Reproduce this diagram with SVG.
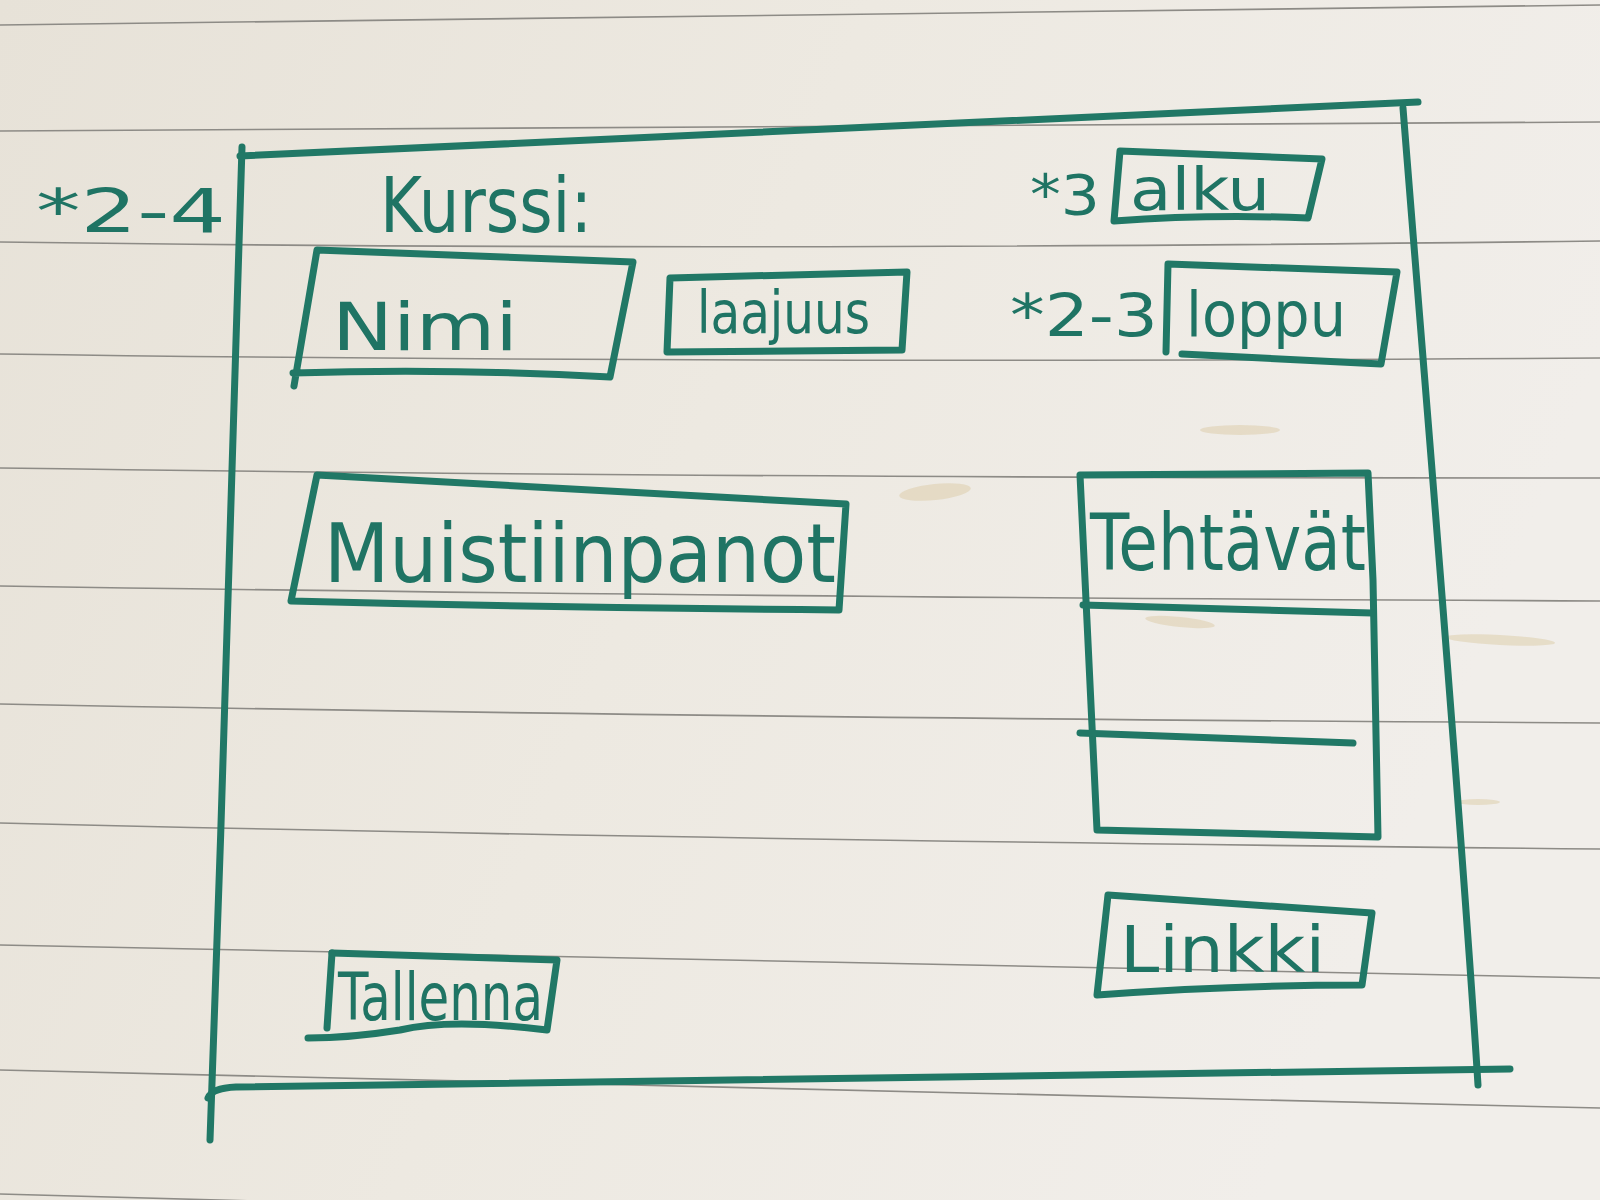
<svg xmlns="http://www.w3.org/2000/svg" width="1600" height="1200" viewBox="0 0 1600 1200">
<defs>
<linearGradient id="paper" x1="0" y1="0" x2="1" y2="0.3">
<stop offset="0" stop-color="#e7e2d8"/>
<stop offset="0.5" stop-color="#ede9e1"/>
<stop offset="1" stop-color="#f1eeea"/>
</linearGradient>
<style>
.rule{fill:none;stroke:#8d8b86;stroke-width:1.6}
.ink{fill:none;stroke:#217866;stroke-width:7;stroke-linecap:round;stroke-linejoin:round}
.txt{fill:#1f7464;font-family:"DejaVu Sans","Liberation Sans",sans-serif}
.stain{fill:#d9c7a0;opacity:0.45}
</style>
</defs>
<rect x="0" y="0" width="1600" height="1200" fill="url(#paper)"/>
<g id="paper-lines">
<path class="rule" d="M0,25 Q800,16 1600,5"/>
<path class="rule" d="M0,131 Q800,130 1600,122"/>
<path class="rule" d="M0,242 Q700,252 1600,241"/>
<path class="rule" d="M0,354 Q700,364 1600,358"/>
<path class="rule" d="M0,468 Q700,478 1600,478"/>
<path class="rule" d="M0,586 Q700,597 1600,601"/>
<path class="rule" d="M0,704 Q700,718 1600,723"/>
<path class="rule" d="M0,823 Q700,840 1600,849"/>
<path class="rule" d="M0,945 Q700,962 1600,978"/>
<path class="rule" d="M0,1070 Q700,1088 1600,1108"/>
<path class="rule" d="M0,1194 Q700,1212 1600,1238"/>
</g>
<g id="stains">
<ellipse class="stain" cx="935" cy="492" rx="36" ry="8" transform="rotate(-6 935 492)"/>
<ellipse class="stain" cx="1240" cy="430" rx="40" ry="5"/>
<ellipse class="stain" cx="1500" cy="640" rx="55" ry="5" transform="rotate(3 1500 640)"/>
<ellipse class="stain" cx="1180" cy="622" rx="35" ry="5" transform="rotate(6 1180 622)"/>
<ellipse class="stain" cx="1478" cy="802" rx="22" ry="3"/>
</g>
<g id="frame">
<path class="ink" d="M242,147 C236,400 222,800 210,1140"/>
<path class="ink" d="M240,156 Q830,128 1418,102"/>
<path class="ink" d="M1403,108 C1430,450 1460,800 1478,1085"/>
<path class="ink" d="M208,1098 Q212,1088 236,1087 L1510,1069"/>
</g>
<g id="note-2-4">
<text class="txt" x="36" y="232" font-size="60" textLength="190" lengthAdjust="spacingAndGlyphs">*2-4</text>
</g>
<g id="kurssi">
<text class="txt" x="380" y="232" font-size="76" textLength="212" lengthAdjust="spacingAndGlyphs">Kurssi:</text>
</g>
<g id="alku">
<text class="txt" x="1030" y="214" font-size="56" textLength="70" lengthAdjust="spacingAndGlyphs">*3</text>
<path class="ink" d="M1120,151 L1322,159 L1308,218 Q1210,214 1114,221 Z"/>
<text class="txt" x="1130" y="210" font-size="58" textLength="140" lengthAdjust="spacingAndGlyphs">alku</text>
</g>
<g id="loppu">
<text class="txt" x="1010" y="336" font-size="58" textLength="148" lengthAdjust="spacingAndGlyphs">*2-3</text>
<path class="ink" d="M1166,352 L1168,264 L1397,272 L1381,364 L1182,354"/>
<text class="txt" x="1186" y="336" font-size="62" textLength="160" lengthAdjust="spacingAndGlyphs">loppu</text>
</g>
<g id="nimi">
<path class="ink" d="M294,386 L317,250 L633,262 L610,377 Q450,368 293,373"/>
<text class="txt" x="332" y="350" font-size="66" textLength="186" lengthAdjust="spacingAndGlyphs">Nimi</text>
</g>
<g id="laajuus">
<path class="ink" d="M670,278 L907,272 L902,350 L667,352 Z"/>
<text class="txt" x="697" y="333" font-size="58" textLength="173" lengthAdjust="spacingAndGlyphs">laajuus</text>
</g>
<g id="muistiinpanot">
<path class="ink" d="M317,475 L846,504 L839,610 Q560,608 291,601 Z"/>
<text class="txt" x="324" y="582" font-size="82" textLength="512" lengthAdjust="spacingAndGlyphs">Muistiinpanot</text>
</g>
<g id="tehtavat">
<path class="ink" d="M1080,475 L1368,473 L1373,580 L1378,837 L1097,830 Z"/>
<path class="ink" d="M1083,605 L1372,613"/>
<path class="ink" d="M1080,733 L1353,743"/>
<text class="txt" x="1090" y="570" font-size="78" textLength="276" lengthAdjust="spacingAndGlyphs">Tehtävät</text>
</g>
<g id="linkki">
<path class="ink" d="M1108,895 L1372,913 L1362,985 Q1230,985 1097,995 Z"/>
<text class="txt" x="1120" y="972" font-size="64" textLength="205" lengthAdjust="spacingAndGlyphs">Linkki</text>
</g>
<g id="tallenna">
<path class="ink" d="M332,953 L557,960 L547,1030 Q450,1018 400,1030 Q350,1038 308,1038"/>
<path class="ink" d="M332,953 L327,1028"/>
<text class="txt" x="338" y="1020" font-size="66" textLength="205" lengthAdjust="spacingAndGlyphs">Tallenna</text>
</g>
<g id="connectors"></g>
</svg>
